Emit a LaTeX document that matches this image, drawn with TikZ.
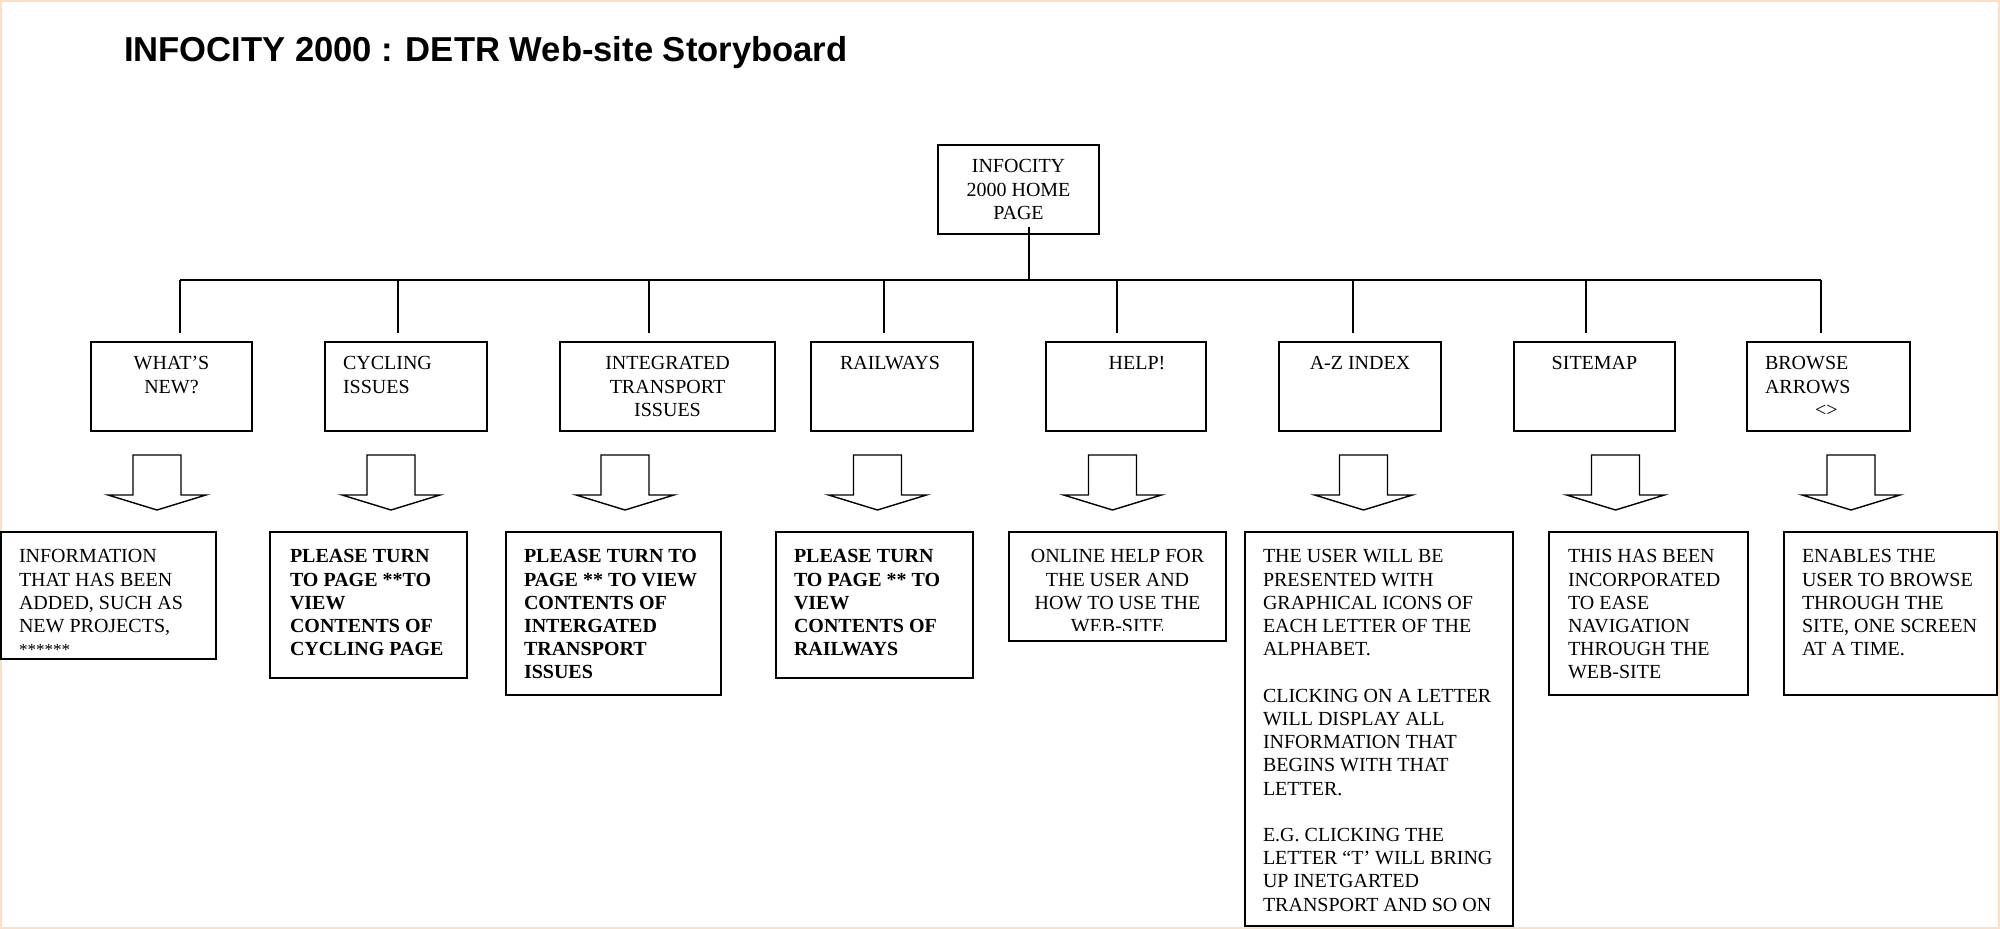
\documentclass[tikz,border=0pt]{standalone}
\usepackage{fontspec}
\setmainfont{Liberation Serif}
\newfontfamily\titlefont{Liberation Sans}
\usetikzlibrary{fit}
\definecolor{peach}{RGB}{250,224,200}
\tikzset{
  boxframe/.style={draw=black, line width=1pt, inner sep=0pt},
  wire/.style={draw=black, line width=1pt},
  txt/.style={inner sep=0pt, outer sep=0pt},
  blockarrowline/.style={draw=black, line width=0.7pt, line join=miter},
  downarrow/.pic={\path[blockarrowline] (-24,0) -- (-24,40) -- (-49,40) -- (0,55) -- (49,40) -- (24,40) -- (24,0) -- cycle;}
}
\newcommand{\lefttext}[1]{\parbox[t]{150pt}{\raggedright\fontsize{10pt}{11.6pt}\selectfont #1}}
\newcommand{\centertext}[1]{\parbox[t]{150pt}{\centering\fontsize{10pt}{11.6pt}\selectfont #1}}
\begin{document}
\begin{tikzpicture}[x=0.5pt,y=-0.5pt]
\useasboundingbox (0,0) rectangle (2000,929);
\fill[white] (0,0) rectangle (2000,929);
\draw[peach, line width=1pt] (1,1) rectangle (1999,928);

% title
\node[txt, anchor=base west, font=\titlefont\bfseries\fontsize{17.3pt}{20pt}\selectfont] (title) at (124,62) {INFOCITY 2000 : DETR Web-site Storyboard};

% home
\node[boxframe, fit={(938,145) (1099,234)}] (home) {};
\node[txt, anchor=base] (thome) at (1018.5,173) {\centertext{INFOCITY\\2000 HOME\\PAGE}};

% level 2 boxes
\node[boxframe, fit={(91,342) (252,431)}] (w1) {};
\node[boxframe, fit={(325,342) (487,431)}] (w2) {};
\node[boxframe, fit={(560,342) (775,431)}] (w3) {};
\node[boxframe, fit={(811,342) (973,431)}] (w4) {};
\node[boxframe, fit={(1046,342) (1206,431)}] (w5) {};
\node[boxframe, fit={(1279,342) (1441,431)}] (w6) {};
\node[boxframe, fit={(1514,342) (1675,431)}] (w7) {};
\node[boxframe, fit={(1747,342) (1910,431)}] (w8) {};

\node[txt, anchor=base] (tw1) at (171.5,370) {\centertext{WHAT’S\\NEW?}};
\node[txt, anchor=base west] (tw2) at (343,370) {\lefttext{CYCLING\\ISSUES}};
\node[txt, anchor=base] (tw3) at (667.5,370) {\centertext{INTEGRATED\\TRANSPORT\\ISSUES}};
\node[txt, anchor=base] (tw4) at (890,370) {\centertext{RAILWAYS}};
\node[txt, anchor=base] (tw5) at (1137,370) {\centertext{HELP!}};
\node[txt, anchor=base] (tw6) at (1360,370) {\centertext{A-Z INDEX}};
\node[txt, anchor=base] (tw7) at (1594.5,370) {\centertext{SITEMAP}};
\node[txt, anchor=base west] (tw8) at (1765,370) {\lefttext{BROWSE\\ARROWS\\\hspace*{25pt}<>}};

% tree connectors
\coordinate (hs) at (1029,227);
\coordinate (hb) at (1029,280);
\coordinate (b1) at (180,280);
\coordinate (b2) at (398,280);
\coordinate (b3) at (649,280);
\coordinate (b4) at (884,280);
\coordinate (b5) at (1117,280);
\coordinate (b6) at (1353,280);
\coordinate (b7) at (1586,280);
\coordinate (b8) at (1821,280);
\coordinate (d1) at (180,333);
\coordinate (d2) at (398,333);
\coordinate (d3) at (649,333);
\coordinate (d4) at (884,333);
\coordinate (d5) at (1117,333);
\coordinate (d6) at (1353,333);
\coordinate (d7) at (1586,333);
\coordinate (d8) at (1821,333);
\draw[wire] (hs) -- (hb);
\draw[wire] (b1) -- (b8);
\foreach \i in {1,...,8} {\draw[wire] (b\i) -- (d\i);}

% block arrows
\pic at (157,455) {downarrow};
\pic at (391,455) {downarrow};
\pic at (625,455) {downarrow};
\pic at (877.5,455) {downarrow};
\pic at (1112.5,455) {downarrow};
\pic at (1363.5,455) {downarrow};
\pic at (1615.5,455) {downarrow};
\pic at (1851,455) {downarrow};

% level 3 boxes
\node[boxframe, fit={(1,532) (216,659)}] (i1) {};
\node[boxframe, fit={(270,532) (467,678)}] (i2) {};
\node[boxframe, fit={(506,532) (721,695)}] (i3) {};
\node[boxframe, fit={(776,532) (973,678)}] (i4) {};
\node[boxframe, fit={(1009,532) (1226,641)}] (i5) {};
\node[boxframe, fit={(1245,532) (1513,926)}] (i6) {};
\node[boxframe, fit={(1549,532) (1748,695)}] (i7) {};
\node[boxframe, fit={(1784,532) (1997,695)}] (i8) {};

\node[txt, anchor=base west] (ti1) at (19,563) {\lefttext{INFORMATION\\THAT HAS BEEN\\ADDED, SUCH AS\\NEW PROJECTS,\\{\fontsize{8.5pt}{11.6pt}\selectfont ******}}};
\node[txt, anchor=base west] (ti2) at (290,563) {\lefttext{\bfseries PLEASE TURN\\TO PAGE **TO\\VIEW\\CONTENTS OF\\CYCLING PAGE}};
\node[txt, anchor=base west] (ti3) at (524,563) {\lefttext{\bfseries PLEASE TURN TO\\PAGE ** TO VIEW\\CONTENTS OF\\INTERGATED\\TRANSPORT\\ISSUES}};
\node[txt, anchor=base west] (ti4) at (794,563) {\lefttext{\bfseries PLEASE TURN\\TO PAGE ** TO\\VIEW\\CONTENTS OF\\RAILWAYS}};
\begin{scope}
\clip (1009,532) rectangle (1226,630);
\node[txt, anchor=base] (ti5) at (1117.5,563) {\centertext{ONLINE HELP FOR\\THE USER AND\\HOW TO USE THE\\WEB-SITE}};
\end{scope}
\node[txt, anchor=base west] (ti6) at (1263,563) {\lefttext{THE USER WILL BE\\PRESENTED WITH\\GRAPHICAL ICONS OF\\EACH LETTER OF THE\\ALPHABET.\\[11.6pt]CLICKING ON A LETTER\\WILL DISPLAY ALL\\INFORMATION THAT\\BEGINS WITH THAT\\LETTER.\\[11.6pt]E.G. CLICKING THE\\LETTER “T’ WILL BRING\\UP INETGARTED\\TRANSPORT AND SO ON}};
\node[txt, anchor=base west] (ti7) at (1568,563) {\lefttext{THIS HAS BEEN\\INCORPORATED\\TO EASE\\NAVIGATION\\THROUGH THE\\WEB-SITE}};
\node[txt, anchor=base west] (ti8) at (1802,563) {\lefttext{ENABLES THE\\USER TO BROWSE\\THROUGH THE\\SITE, ONE SCREEN\\AT A TIME.}};
\end{tikzpicture}
\end{document}
